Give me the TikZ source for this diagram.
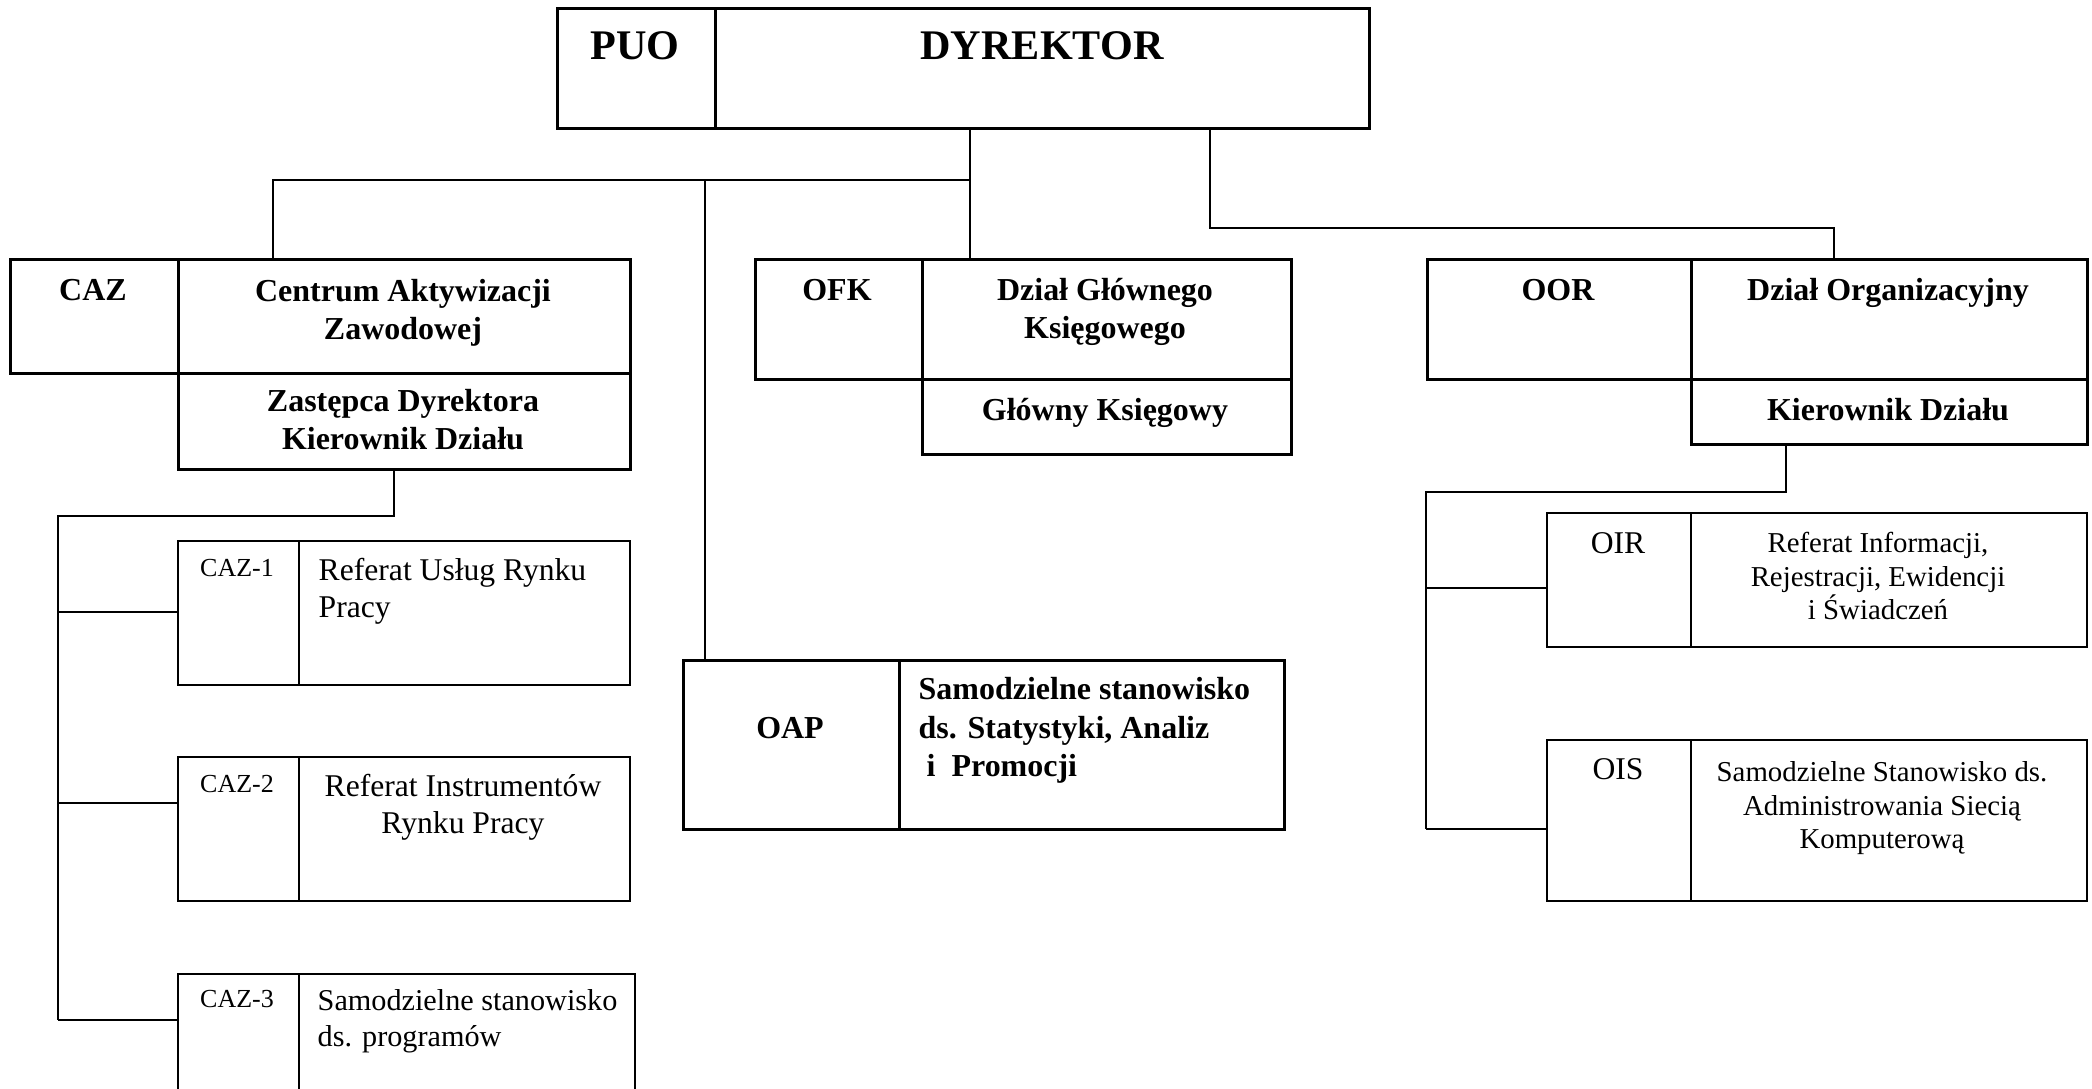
\documentclass[tikz,border=0pt]{standalone}
\usepackage{fontspec}
\setmainfont{Liberation Serif}

\tikzset{
  unit/.style={draw, line width=0.85pt, anchor=north west, inner sep=0pt},
  cell/.style={draw, line width=0.5pt, anchor=north west, inner sep=0pt},
  link/.style={line width=0.45pt},
  head/.style={font=\fontsize{12}{14}\selectfont\bfseries, anchor=base, inner sep=0pt},
  boldtxt/.style={font=\fontsize{9.1}{11}\selectfont\bfseries, anchor=base, align=center, inner sep=0pt},
  plaintxt/.style={font=\fontsize{9}{10.8}\selectfont, anchor=base, inner sep=0pt},
  smalltxt/.style={font=\fontsize{8.2}{9.6}\selectfont, anchor=base, inner sep=0pt},
  codetxt/.style={font=\fontsize{7.4}{9}\selectfont, anchor=base, inner sep=0pt},
}

\begin{document}
\begin{tikzpicture}
			\useasboundingbox (0,0) rectangle (20.92,-10.89);
			\clip (0,0) rectangle (20.92,-10.89);

			% Boxes - Director
			\node[unit, minimum width=1.58cm, minimum height=1.20cm] (puo) at (5.56,-0.07) {};
			\node[unit, minimum width=6.54cm, minimum height=1.20cm] (dyr) at (7.14,-0.07) {};

			% Boxes - Row 1
			\node[unit, minimum width=1.68cm, minimum height=1.14cm] (cazL) at (0.09,-2.58) {};
			\node[unit, minimum width=4.52cm, minimum height=1.14cm] (cazN) at (1.77,-2.58) {};
			\node[unit, minimum width=4.52cm, minimum height=0.96cm] (zast) at (1.77,-3.72) {};
			\node[unit, minimum width=1.67cm, minimum height=1.20cm] (ofkL) at (7.54,-2.58) {};
			\node[unit, minimum width=3.69cm, minimum height=1.20cm] (ofkN) at (9.21,-2.58) {};
			\node[unit, minimum width=3.69cm, minimum height=0.75cm] (gk) at (9.21,-3.78) {};
			\node[unit, minimum width=2.64cm, minimum height=1.20cm] (oorL) at (14.26,-2.58) {};
			\node[unit, minimum width=3.96cm, minimum height=1.20cm] (oorN) at (16.90,-2.58) {};
			\node[unit, minimum width=3.96cm, minimum height=0.65cm] (kier) at (16.90,-3.78) {};
			\node[unit, minimum width=2.16cm, minimum height=1.69cm] (oapL) at (6.82,-6.59) {};
			\node[unit, minimum width=3.85cm, minimum height=1.69cm] (oapN) at (8.98,-6.59) {};

			% Boxes - CAZ sections
			\node[cell, minimum width=1.21cm, minimum height=1.44cm] (caz1L) at (1.77,-5.40) {};
			\node[cell, minimum width=3.31cm, minimum height=1.44cm] (caz1N) at (2.98,-5.40) {};
			\node[cell, minimum width=1.21cm, minimum height=1.44cm] (caz2L) at (1.77,-7.56) {};
			\node[cell, minimum width=3.31cm, minimum height=1.44cm] (caz2N) at (2.98,-7.56) {};
			\node[cell, minimum width=1.21cm, minimum height=1.40cm] (caz3L) at (1.77,-9.73) {};
			\node[cell, minimum width=3.36cm, minimum height=1.40cm] (caz3N) at (2.98,-9.73) {};

			% Boxes - OOR sections
			\node[cell, minimum width=1.44cm, minimum height=1.34cm] (oirL) at (15.46,-5.12) {};
			\node[cell, minimum width=3.96cm, minimum height=1.34cm] (oirN) at (16.90,-5.12) {};
			\node[cell, minimum width=1.44cm, minimum height=1.61cm] (oisL) at (15.46,-7.39) {};
			\node[cell, minimum width=3.96cm, minimum height=1.61cm] (oisN) at (16.90,-7.39) {};

			% Texts (multi-line ones sit on their last line)
			\node[head] (puoT) at (6.35,-0.60) {PUO};
			\node[head] (dyrT) at (10.42,-0.60) {DYREKTOR};
			\node[boldtxt] (cazLT) at (0.93,-3.01) {CAZ};
			\node[boldtxt] (cazNT) at (4.03,-3.40) {Centrum Aktywizacji\\Zawodowej};
			\node[boldtxt] (zastT) at (4.03,-4.50) {Zastępca Dyrektora\\Kierownik Działu};
			\node[boldtxt] (ofkLT) at (8.37,-3.01) {OFK};
			\node[boldtxt] (ofkNT) at (11.05,-3.39) {Dział Głównego\\Księgowego};
			\node[boldtxt] (gkT) at (11.05,-4.21) {Główny Księgowy};
			\node[boldtxt] (oorLT) at (15.58,-3.01) {OOR};
			\node[boldtxt] (oorNT) at (18.88,-3.01) {Dział Organizacyjny};
			\node[boldtxt] (kierT) at (18.88,-4.21) {Kierownik Działu};
			\node[boldtxt] (oapLT) at (7.90,-7.39) {OAP};
			\node[boldtxt, anchor=base west, align=left] (oapNT) at (9.18,-7.77) {Samodzielne stanowisko\\ds. Statystyki, Analiz\\\ i\ \ Promocji};

			\node[codetxt] (caz1LT) at (2.37,-5.77) {CAZ-1};
			\node[plaintxt, anchor=base west, align=left] (caz1NT) at (3.18,-6.18) {Referat Usług Rynku\\Pracy};
			\node[codetxt] (caz2LT) at (2.37,-7.93) {CAZ-2};
			\node[plaintxt, align=center] (caz2NT) at (4.63,-8.34) {Referat Instrumentów\\Rynku Pracy};
			\node[codetxt] (caz3LT) at (2.37,-10.08) {CAZ-3};
			\node[plaintxt, font=\fontsize{8.6}{10.4}\selectfont, anchor=base west, align=left] (caz3NT) at (3.17,-10.47) {Samodzielne stanowisko\\ds. programów};

			\node[plaintxt] (oirLT) at (16.18,-5.54) {OIR};
			\node[smalltxt, align=center] (oirNT) at (18.78,-6.20) {Referat Informacji,\\Rejestracji, Ewidencji\\i Świadczeń};
			\node[plaintxt] (oisLT) at (16.18,-7.80) {OIS};
			\node[smalltxt, align=center] (oisNT) at (18.82,-8.49) {Samodzielne Stanowisko ds.\\Administrowania Siecią\\Komputerową};

			% Junctions
			\coordinate (trunk) at (9.70,-1.80);
			\coordinate (cazDrop) at (2.73,-1.80);
			\coordinate (oapDrop) at (7.05,-1.80);
			\coordinate (oorBend) at (12.10,-2.28);
			\coordinate (oorDrop) at (18.34,-2.28);
			\coordinate (cazBend) at (3.94,-5.16);
			\coordinate (cazRail) at (0.58,-5.16);
			\coordinate (caz1J) at (0.58,-6.12);
			\coordinate (caz2J) at (0.58,-8.03);
			\coordinate (caz3J) at (0.58,-10.20);
			\coordinate (oorBend2) at (17.86,-4.92);
			\coordinate (oorRail) at (14.26,-4.92);
			\coordinate (oirJ) at (15.46,-5.88);
			\coordinate (oisJ) at (15.46,-8.29);

			% Edges
			\draw[link] (trunk |- dyr.south) -- (trunk |- ofkN.north);
			\draw[link] (trunk) -- (cazDrop) -- (cazDrop |- cazN.north);
			\draw[link] (oapDrop) -- (oapDrop |- oapL.north);
			\draw[link] (oorBend |- dyr.south) -- (oorBend) -- (oorDrop) -- (oorDrop |- oorN.north);
			\draw[link] (cazBend |- zast.south) -- (cazBend) -- (cazRail) -- (caz3J);
			\draw[link] (caz1J) -- (caz1J -| caz1L.west); \draw[link] (caz2J) -- (caz2J -| caz2L.west);
			\draw[link] (caz3J) -- (caz3J -| caz3L.west);
			\draw[link] (oorBend2 |- kier.south) -- (oorBend2) -- (oorRail) -- (oorRail |- oisJ);
			\draw[link] (oorRail |- oirJ) -- (oirJ); \draw[link] (oorRail |- oisJ) -- (oisJ);
\end{tikzpicture}
\end{document}
